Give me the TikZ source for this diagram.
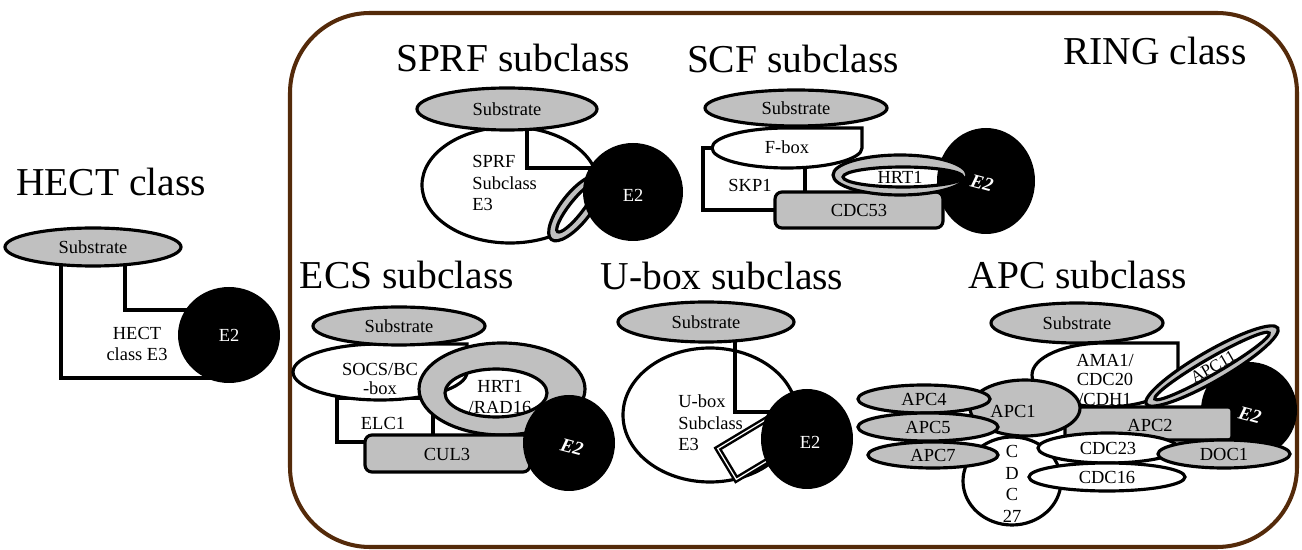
\documentclass[tikz,border=0pt]{standalone}
\usepackage{fontspec}
\setmainfont{Liberation Serif}
\usepackage{xcolor}
\definecolor{protgray}{RGB}{192,192,192}
\definecolor{ringbrown}{RGB}{84,42,10}

\begin{document}
\begin{tikzpicture}[x=0.02cm,y=-0.02cm,
  ln/.style={draw=black,line width=1.8pt},
  prot/.style={ln,fill=protgray},
  part/.style={ln,fill=white},
  etwo/.style={fill=black},
  lbl/.style={font=\fontsize{10.5}{12.3}\selectfont,inner sep=0pt},
  elbl/.style={lbl,text=white},
  eital/.style={text=white,font=\fontsize{11}{12}\selectfont\bfseries\itshape,rotate=-15,inner sep=0pt},
  ttl/.style={font=\fontsize{22.5}{26}\selectfont,anchor=base,inner sep=0pt}]

\useasboundingbox (0,0) rectangle (1302,550);

% RING class frame
\draw[ringbrown,line width=2.3pt,rounded corners=1.6cm] (290,13) rectangle (1297,547);
\node[ttl] (ringtitle) at (1155,65) {RING class};

% HECT class
\node[ttl] (hecttitle) at (111,196) {HECT class};
\draw[ln] (61,262) -- (61,378) -- (215,378);
\draw[ln] (125,262) -- (125,310) -- (190,310);
\draw[prot] (93,247) ellipse (88 and 19);
\node[lbl] (hectsub) at (93,247) {Substrate};
\fill[etwo] (229,335) ellipse (51 and 48);
\node[elbl] (hecte2) at (229,335) {E2};
\node[lbl,align=center] (hecte3) at (137,344) {HECT\\class E3};

% SPRF subclass
\node[ttl] (sprftitle) at (513,72) {SPRF subclass};
\draw[part] (510,185) ellipse (88 and 58);
\draw[ln] (527,128) -- (527,168) -- (592,168);
\draw[prot] (507,109) ellipse (90 and 21);
\node[lbl] (sprfsub) at (507,109) {Substrate};
\draw[prot,rotate around={52:(576,208)}] (576,208) ellipse (40 and 15);
\draw[part,rotate around={52:(576,208)}] (576,208) ellipse (30 and 7);
\fill[etwo] (633,192) ellipse (50 and 49);
\node[elbl] (sprfe2) at (633,195) {E2};
\node[lbl,anchor=west,align=left] (sprfe3) at (472,183) {SPRF\\Subclass\\E3};

% SCF subclass
\node[ttl] (scftitle) at (793,73) {SCF subclass};
\draw[part] (703,148) rectangle (805,210);
\draw[part] (862,148) arc[start angle=0,end angle=270,x radius=75,y radius=20] -- (862,128) -- cycle;
\node[lbl] (fbox) at (787,147) {F-box};
\node[lbl] (skp) at (750,185) {SKP1};
\draw[prot] (796,108) ellipse (91 and 18);
\node[lbl] (scfsub) at (796,108) {Substrate};
\fill[white] (903,177) ellipse (60 and 10);
\fill[etwo] (986,181) ellipse (49 and 53);
\draw[prot,rounded corners=4pt] (775,192) rectangle (943,228);
\node[lbl] (cdc53) at (859,210) {CDC53};
\draw[prot,even odd rule] (900,175) ellipse (67 and 20) (903,177) ellipse (60 and 10);
\node[lbl] (scfhrt) at (900,177) {HRT1};
\node[eital] (scfe2) at (982,183) {E2};

% ECS subclass
\node[ttl] (ecstitle) at (407,289) {ECS subclass};
\draw[part] (337,398) rectangle (433,442);
\draw[part] (467,372) arc[start angle=0,end angle=270,x radius=87,y radius=28] -- (467,344) -- cycle;
\node[lbl,align=center] (socs) at (380,379) {SOCS/BC\\[-2pt]-box};
\node[lbl] (elc) at (383,423) {ELC1};
\draw[prot] (399,326) ellipse (86 and 19);
\node[lbl] (ecssub) at (399,326) {Substrate};
\draw[prot,even odd rule] (502,389) ellipse (83 and 46) (496,393) ellipse (51 and 24);
\node[lbl,align=center] (ecshrt) at (500,397) {HRT1\\/RAD16};
\draw[prot,rounded corners=4pt] (365,435) rectangle (530,472);
\node[lbl] (cul) at (447,454) {CUL3};
\fill[etwo] (569,443) ellipse (46 and 48);
\node[eital] (ecse2) at (572,447) {E2};

% U-box subclass
\node[ttl] (uboxtitle) at (722,290) {U-box subclass};
\draw[part] (710,415) ellipse (87 and 67);
\draw[ln] (735,342) -- (735,412) -- (775,412);
\draw[prot] (706,322) ellipse (88 and 20);
\node[lbl] (uboxsub) at (706,322) {Substrate};
\draw[fill=white,line width=1.4pt,double=white,double distance=0.7pt,rotate around={31:(757,446)}] (722,428) rectangle (792,464);
\fill[etwo] (807,439) ellipse (46 and 50);
\node[elbl] (uboxe2) at (810,442) {E2};
\node[lbl,anchor=west,align=left] (uboxe3) at (678,423) {U-box\\Subclass\\E3};

% APC subclass
\node[ttl] (apctitle) at (1078,289) {APC subclass};
\draw[part] (1178,375) arc[start angle=0,end angle=270,x radius=73,y radius=32] -- (1178,343) -- cycle;
\node[lbl,align=center] (ama) at (1105,380) {AMA1/\\[-1pt]CDC20\\[-1pt]/CDH1};
\draw[prot] (1077,323) ellipse (86 and 20);
\node[lbl] (apcsub) at (1077,323) {Substrate};
\fill[etwo] (1249,410) ellipse (48 and 48);
\draw[prot,rounded corners=2pt] (1065,407) rectangle (1232,440);
\node[lbl] (apc2) at (1150,425) {APC2};
\node[eital] (apce2) at (1250,415) {E2};
\draw[prot,rotate around={30:(1212,366)}] (1212,366) ellipse (76 and 15);
\draw[part,rotate around={30:(1212,366)}] (1212,366) ellipse (66 and 8);
\node[lbl,font=\fontsize{9.5}{10}\selectfont,rotate=30] (apc11) at (1213,367) {APC11};
\draw[part] (1012,481) ellipse (49 and 44);
\node[lbl,align=center] (cdc27) at (1012,484) {C\\D\\C\\27};
\draw[prot] (1025,408) ellipse (55 and 28);
\node[lbl] (apc1) at (1013,411) {APC1};
\draw[prot] (924,399) ellipse (66 and 14);
\node[lbl] (apc4) at (924,399) {APC4};
\draw[prot] (928,427) ellipse (70 and 14);
\node[lbl] (apc5) at (928,427) {APC5};
\draw[prot] (933,455) ellipse (65 and 13);
\node[lbl] (apc7) at (933,455) {APC7};
\draw[part] (1108,448) ellipse (70 and 15);
\node[lbl] (cdc23) at (1108,448) {CDC23};
\draw[part] (1107,477) ellipse (78 and 14);
\node[lbl] (cdc16) at (1107,477) {CDC16};
\draw[prot] (1224,454) ellipse (66 and 14);
\node[lbl] (doc) at (1224,454) {DOC1};
\end{tikzpicture}
\end{document}
